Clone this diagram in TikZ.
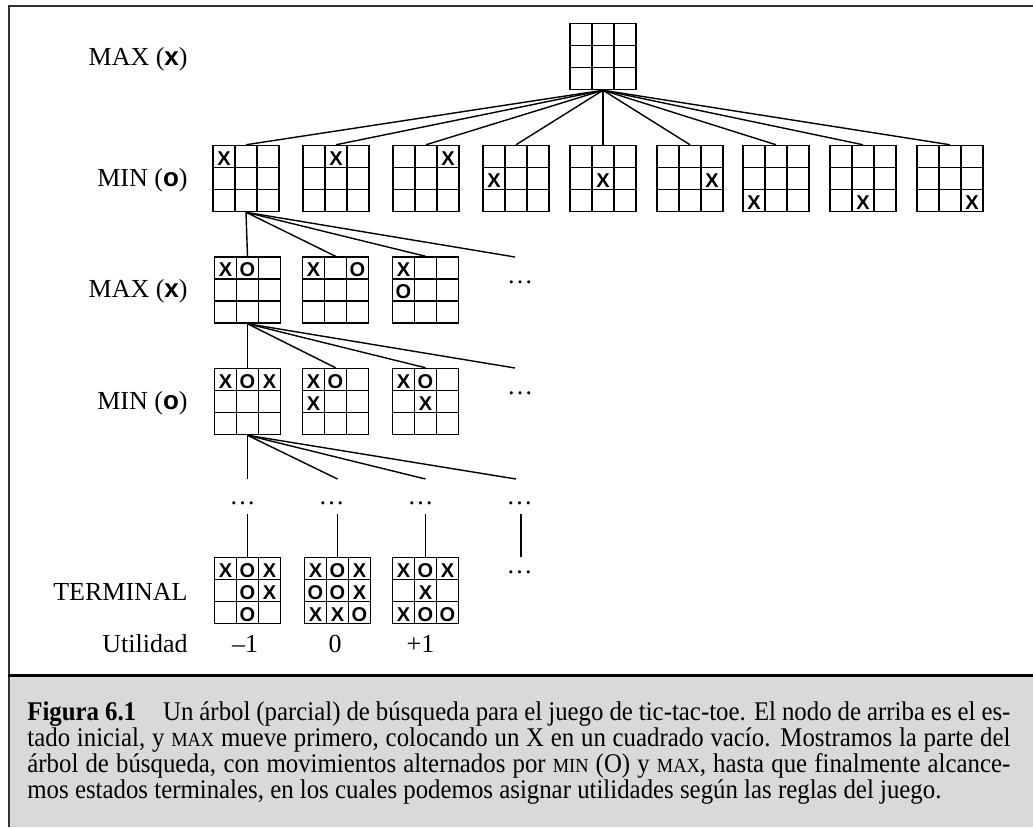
\documentclass[tikz,border=0pt]{standalone}
\usepackage{fontspec}
\setmainfont{Liberation Serif}
\newfontfamily\marksf{Liberation Sans}
\newfontfamily\capfont{Liberation Serif}[FakeStretch=0.92]

\tikzset{
  board/.style={draw, line width=0.75pt, minimum size=33pt, inner sep=0pt,
    path picture={
      \foreach \k in {-5.5pt,5.5pt}{
        \draw[line width=0.75pt] ([xshift=\k]path picture bounding box.north) -- ([xshift=\k]path picture bounding box.south);
        \draw[line width=0.75pt] ([yshift=\k]path picture bounding box.west) -- ([yshift=\k]path picture bounding box.east);
      }}},
  tmark/.style={inner sep=0pt, font=\marksf\bfseries\fontsize{10pt}{10pt}\selectfont},
  levellabel/.style={anchor=base east, inner sep=0pt, font=\fontsize{13pt}{15pt}\selectfont},
  value/.style={anchor=base, inner sep=0pt, font=\fontsize{13pt}{15pt}\selectfont},
  more/.style={anchor=base, inner sep=0pt, font=\fontsize{13pt}{15pt}\selectfont},
  capline/.style={anchor=base west, inner sep=0pt, font=\capfont\fontsize{13.5pt}{15pt}\selectfont},
  link/.style={line width=0.7pt},
}

% marks on a board: {col/row/symbol, ...}
\newcommand{\putmarks}[2]{%
  \foreach \mcol/\mrow/\msym in {#2}
    \node[tmark] at ([xshift={(\mcol-1)*11pt}, yshift={(1-\mrow)*11pt-1pt}]#1.center) {\msym};}
\newcommand{\smallcap}[1]{{\fontsize{10}{13}\selectfont #1}}
\newcommand{\xo}[1]{{\marksf\bfseries #1}}

\begin{document}
\begin{tikzpicture}[x=0.5pt,y=-0.5pt]
\useasboundingbox (0,0) rectangle (1033,827);

% frame and caption box
\fill[black!15] (9,676) rectangle (1033,827);
\draw[line width=1pt, black!80] (8.5,827) -- (8.5,6) -- (1033,6);
\draw[line width=1.5pt] (8,675) -- (1033,675);

% level labels
\node[levellabel] (l1) at (188,65) {MAX (\xo{x})};
\node[levellabel] (l2) at (188,186) {MIN (\xo{o})};
\node[levellabel] (l3) at (188,297) {MAX (\xo{x})};
\node[levellabel] (l4) at (188,409) {MIN (\xo{o})};
\node[levellabel] (l5) at (188,600) {TERMINAL};
\node[levellabel] (l6) at (188,652) {Utilidad};

% root
\node[board] (root) at (603,56.5) {};

% first move of MAX
\foreach \i/\x in {0/246,1/336,2/426,3/516,4/603,5/690,6/776,7/863,8/950} {
  \node[board] (m\i) at (\x,178.5) {};
  \pgfmathtruncatemacro\mc{mod(\i,3)}
  \pgfmathtruncatemacro\mr{div(\i,3)}
  \putmarks{m\i}{\mc/\mr/X}
  \draw[link] (root.south) -- (m\i.north);
}

% reply of MIN
\node[board] (a1) at (247.5,290) {};
\node[board] (a2) at (335.5,290) {};
\node[board] (a3) at (425.5,290) {};
\putmarks{a1}{0/0/X, 1/0/O}
\putmarks{a2}{0/0/X, 2/0/O}
\putmarks{a3}{0/0/X, 0/1/O}
\coordinate (a4) at (515,257);
\node[more] (ad) at (520,283) {\dots};
\foreach \n in {a1,a2,a3} \draw[link] (m0.south) -- (\n.north);
\draw[link] (m0.south) -- (a4);

% next move of MAX
\node[board] (b1) at (247.5,401.5) {};
\node[board] (b2) at (335.5,401.5) {};
\node[board] (b3) at (425.5,401.5) {};
\putmarks{b1}{0/0/X, 1/0/O, 2/0/X}
\putmarks{b2}{0/0/X, 1/0/O, 0/1/X}
\putmarks{b3}{0/0/X, 1/0/O, 1/1/X}
\coordinate (b4) at (515,368);
\node[more] (bd) at (520,394) {\dots};
\foreach \n in {b1,b2,b3} \draw[link] (a1.south) -- (\n.north);
\draw[link] (a1.south) -- (b4);

% down to the end
\coordinate (e1) at (247.5,479);
\coordinate (e2) at (337.5,479);
\coordinate (e3) at (425.5,479);
\coordinate (e4) at (516,479);
\foreach \n in {e1,e2,e3,e4} \draw[link] (b1.south) -- (\n);
\node[more] (d1) at (242.5,504) {\dots};
\node[more] (d2) at (331.5,504) {\dots};
\node[more] (d3) at (420.5,504) {\dots};
\node[more] (d4) at (519.5,504) {\dots};
\coordinate (f1) at (247.5,514);
\coordinate (f2) at (337.5,514);
\coordinate (f3) at (425.5,514);
\coordinate (f4) at (521,514);
\coordinate (g4) at (521,557);

% terminal states
\node[board] (t1) at (247.5,590.5) {};
\node[board] (t2) at (337.5,590.5) {};
\node[board] (t3) at (425.5,590.5) {};
\putmarks{t1}{0/0/X, 1/0/O, 2/0/X, 1/1/O, 2/1/X, 1/2/O}
\putmarks{t2}{0/0/X, 1/0/O, 2/0/X, 0/1/O, 1/1/O, 2/1/X, 0/2/X, 1/2/X, 2/2/O}
\putmarks{t3}{0/0/X, 1/0/O, 2/0/X, 1/1/X, 0/2/X, 1/2/O, 2/2/O}
\draw[link] (f1) -- (t1.north);
\draw[link] (f2) -- (t2.north);
\draw[link] (f3) -- (t3.north);
\draw[link] (f4) -- (g4);
\node[more] (d5) at (519.5,573) {\dots};

% utilities
\node[value] (u1) at (245,652) {--1};
\node[value] (u2) at (335,652) {0};
\node[value] (u3) at (420.5,652) {+1};

% caption, one node per line
\node[capline] (c1) at (27,720) {\makebox[491.5pt][s]{\textbf{Figura 6.1}\quad Un árbol (parcial) de búsqueda para el juego de tic-tac-toe. El nodo de arriba es el es-}};
\node[capline] (c2) at (27,746) {\makebox[491.5pt][s]{tado inicial, y \smallcap{MAX} mueve primero, colocando un X en un cuadrado vacío. Mostramos la parte del}};
\node[capline] (c3) at (27,772) {\makebox[491.5pt][s]{árbol de búsqueda, con movimientos alternados por \smallcap{MIN} (O) y \smallcap{MAX}, hasta que finalmente alcance-}};
\node[capline] (c4) at (27,798) {mos estados terminales, en los cuales podemos asignar utilidades según las reglas del juego.};
\end{tikzpicture}
\end{document}
